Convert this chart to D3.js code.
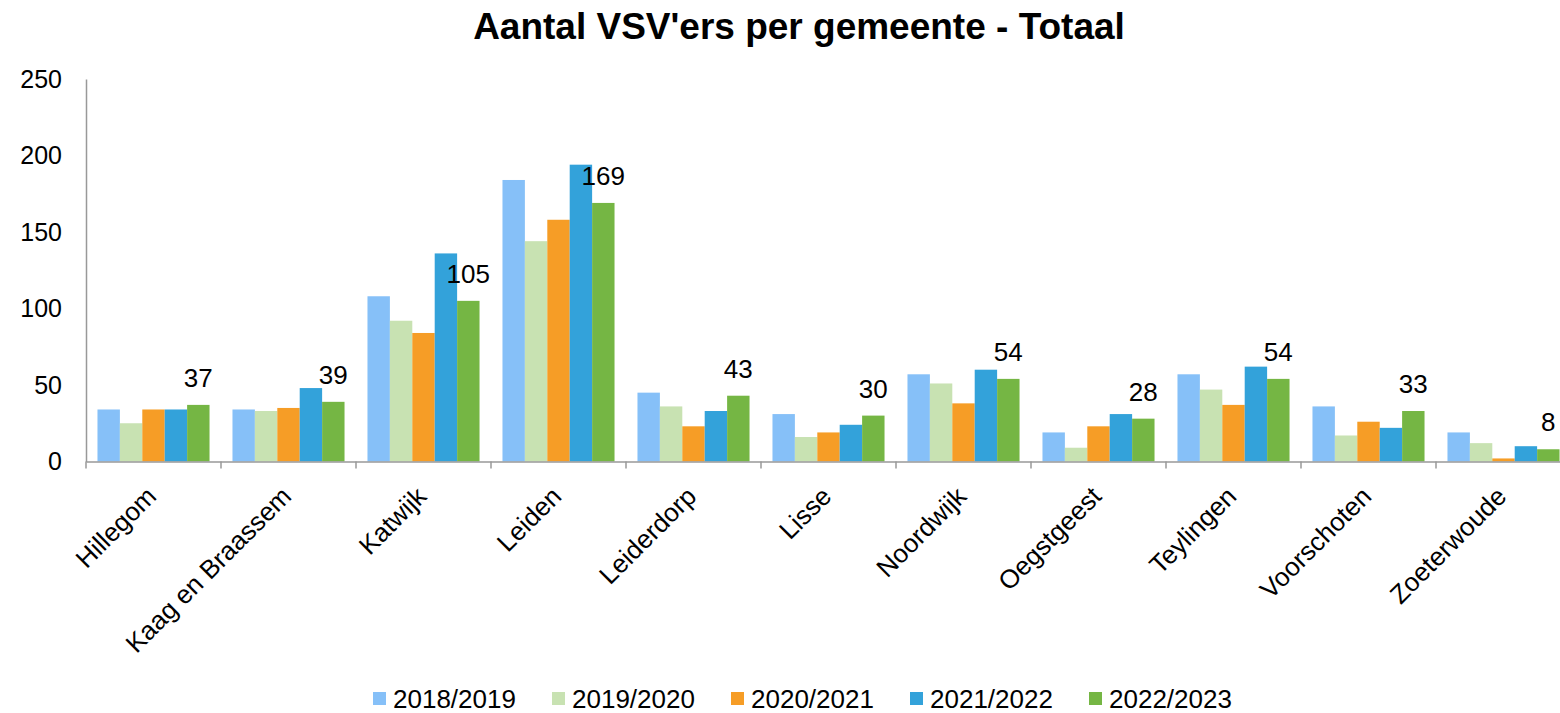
<!DOCTYPE html>
<html>
<head>
<meta charset="utf-8">
<script src="https://cdn.jsdelivr.net/npm/d3@7"></script>
<style>
  body { margin: 0; background: #fff; overflow: hidden; }
  text { font-family: "Liberation Sans", Arial, sans-serif; fill: #000; }
</style>
</head>
<body>
<div id="chart"></div>
<script>
const categories = ["Hillegom", "Kaag en Braassem", "Katwijk", "Leiden", "Leiderdorp", "Lisse",
  "Noordwijk", "Oegstgeest", "Teylingen", "Voorschoten", "Zoeterwoude"];
const seriesNames = ["2018/2019", "2019/2020", "2020/2021", "2021/2022", "2022/2023"];
const v2018 = [34, 34, 108, 184, 45, 31, 57, 19, 57, 36, 19];
const v2019 = [25, 33, 92, 144, 36, 16, 51, 9, 47, 17, 12];
const v2020 = [34, 35, 84, 158, 23, 19, 38, 23, 37, 26, 2];
const v2021 = [34, 48, 136, 194, 33, 24, 60, 31, 62, 22, 10];
const v2022 = [37, 39, 105, 169, 43, 30, 54, 28, 54, 33, 8];
const yTicks = [0, 50, 100, 150, 200, 250];
const colors = ["#86C0F8", "#C8E2B2", "#F69D26", "#33A2DA", "#75B644"];

const seriesValues = [v2018, v2019, v2020, v2021, v2022];

const width = 1560, height = 713;
// plot runs a little past the right edge, like the original export
const margin = { top: 79, left: 86, bottom: 251.5 };
const plotRight = 1571;

const svg = d3.select("#chart")
  .append("svg")
  .attr("width", width)
  .attr("height", height);

const x0 = d3.scaleBand()
  .domain(categories)
  .range([margin.left, plotRight])
  .padding(0);

const gap = x0.bandwidth() * 0.085;
const x1 = d3.scaleBand()
  .domain(seriesNames)
  .range([gap, x0.bandwidth() - gap])
  .padding(0);

const y = d3.scaleLinear()
  .domain([0, 250])
  .range([height - margin.bottom, margin.top]);

// title
svg.append("text")
  .attr("x", 799)
  .attr("y", 39)
  .attr("text-anchor", "middle")
  .style("font-size", "37px")
  .style("font-weight", "bold")
  .text("Aantal VSV'ers per gemeente - Totaal");

// bars
const groups = svg.append("g")
  .selectAll("g")
  .data(categories)
  .enter()
  .append("g")
  .attr("transform", d => `translate(${x0(d)},0)`);

groups.selectAll("rect")
  .data((d, i) => seriesNames.map((s, j) => ({ s: s, v: seriesValues[j][i], j: j })))
  .enter()
  .append("rect")
  .attr("x", d => x1(d.s))
  .attr("y", d => y(d.v))
  .attr("width", x1.bandwidth())
  .attr("height", d => y(0) - y(d.v))
  .attr("fill", d => colors[d.j]);

// data labels on the last series
groups.append("text")
  .attr("x", x1(seriesNames[4]) + x1.bandwidth() / 2)
  .attr("y", (d, i) => y(v2022[i]) - 18)
  .attr("text-anchor", "middle")
  .style("font-size", "26px")
  .text((d, i) => v2022[i]);

// y axis
const yAxis = svg.append("g")
  .attr("transform", `translate(${margin.left},0)`)
  .call(d3.axisLeft(y).tickValues(yTicks).tickSize(0).tickPadding(24));
yAxis.select(".domain").attr("stroke", "#999").attr("stroke-width", 1.5);
yAxis.selectAll("text").style("font-size", "25px");

// x axis
const xAxis = svg.append("g")
  .attr("transform", `translate(0,${y(0)})`)
  .call(d3.axisBottom(x0).tickSize(0).tickFormat(""));
xAxis.select(".domain").attr("stroke", "#999").attr("stroke-width", 1.5);

svg.append("g")
  .selectAll("line")
  .data(categories)
  .enter()
  .append("line")
  .attr("x1", d => x0(d))
  .attr("x2", d => x0(d))
  .attr("y1", y(0))
  .attr("y2", y(0) + 7)
  .attr("stroke", "#999")
  .attr("stroke-width", 1.5);

svg.append("g")
  .selectAll("text")
  .data(categories)
  .enter()
  .append("text")
  .attr("transform", d => `translate(${x0(d) + x0.bandwidth() / 2 - 2},${y(0) + 30}) rotate(-45)`)
  .attr("text-anchor", "end")
  .attr("dy", "0.35em")
  .style("font-size", "26px")
  .text(d => d);

// legend
const legend = svg.append("g")
  .attr("transform", "translate(373,698.5)");

const item = legend.selectAll("g")
  .data(seriesNames)
  .enter()
  .append("g")
  .attr("transform", (d, i) => `translate(${i * 179},0)`);

item.append("rect")
  .attr("x", 0)
  .attr("y", -6.5)
  .attr("width", 13)
  .attr("height", 13)
  .attr("fill", (d, i) => colors[i]);

item.append("text")
  .attr("x", 20)
  .attr("dy", "0.36em")
  .style("font-size", "26px")
  .text(d => d);
</script>
</body>
</html>
